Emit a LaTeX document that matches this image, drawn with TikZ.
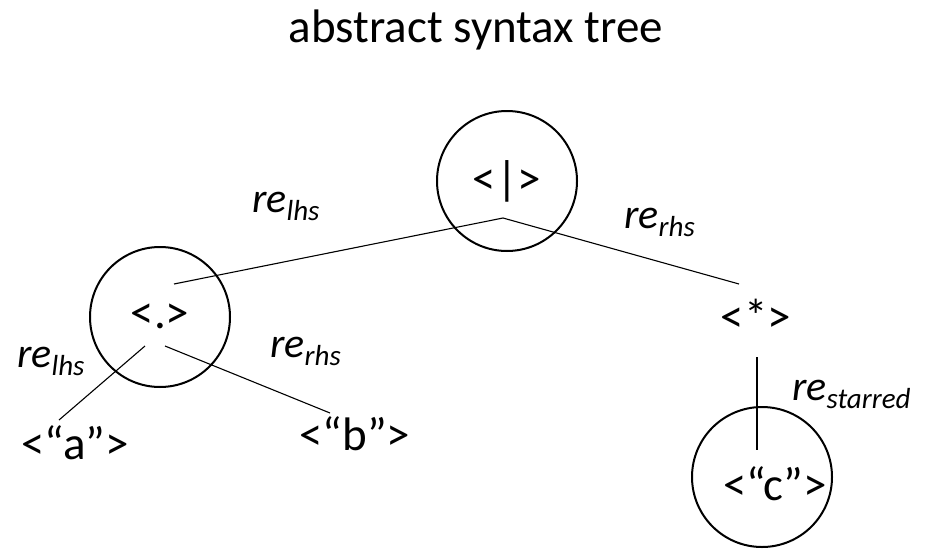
\documentclass[tikz,border=0pt]{standalone}
\usepackage{fontspec}
\setmainfont{Carlito}
\newcommand{\edgelabel}[1]{{\fontsize{42}{42}\selectfont\itshape re\raisebox{-8pt}{\fontsize{29}{29}\selectfont #1}}}
\begin{document}
\begin{tikzpicture}[x=1pt,y=-1pt,
  treenode/.style={inner sep=0pt,anchor=base,font=\fontsize{47}{47}\selectfont},
  ring/.style={draw,circle,line width=2pt,minimum size=140pt,inner sep=0pt},
  branch/.style={draw,line width=1.1pt},
  edgetag/.style={inner sep=0pt,anchor=base west}]
\useasboundingbox (0,0) rectangle (926,554);
\fill[white] (0,0) rectangle (926,554);

% title
\node[treenode] (title) at (476,42) {abstract syntax tree};

% circles round the highlighted nodes
\node[ring] (c1) at (507,181) {};
\node[ring] (c2) at (160,317) {};
\node[ring] (c3) at (762,477) {};

% node texts
\node[treenode] (alt) at (507,194) {<|>};
\node[treenode] (seq) at (160,328) {<.>};
\node[treenode] (star) at (756,332) {<*>};
\node[treenode] (lita) at (75,459) {<“a”>};
\node[treenode] (litb) at (355,450) {<“b”>};
\node[treenode] (litc) at (775,500) {<“c”>};

% connector end points
\coordinate (altfork) at (503,218);
\coordinate (seqtop) at (174,284);
\coordinate (startop) at (739,284);
\coordinate (seql) at (145,346);
\coordinate (seqr) at (165,346);
\coordinate (atop) at (59,420);
\coordinate (btop) at (330,413);
\coordinate (starbot) at (757,357);
\coordinate (ctop) at (757,450);

\draw[branch] (seqtop) -- (altfork) -- (startop);
\draw[branch] (seql) -- (atop);
\draw[branch] (seqr) -- (btop);
\draw[branch] (starbot) -- (ctop);

% edge labels
\node[edgetag] (l1) at (252,212) {\edgelabel{lhs}};
\node[edgetag] (r1) at (624,228) {\edgelabel{rhs}};
\node[edgetag] (l2) at (17,367) {\edgelabel{lhs}};
\node[edgetag] (r2) at (270,357) {\edgelabel{rhs}};
\node[edgetag] (s1) at (792,400) {\edgelabel{starred}};
\end{tikzpicture}
\end{document}
